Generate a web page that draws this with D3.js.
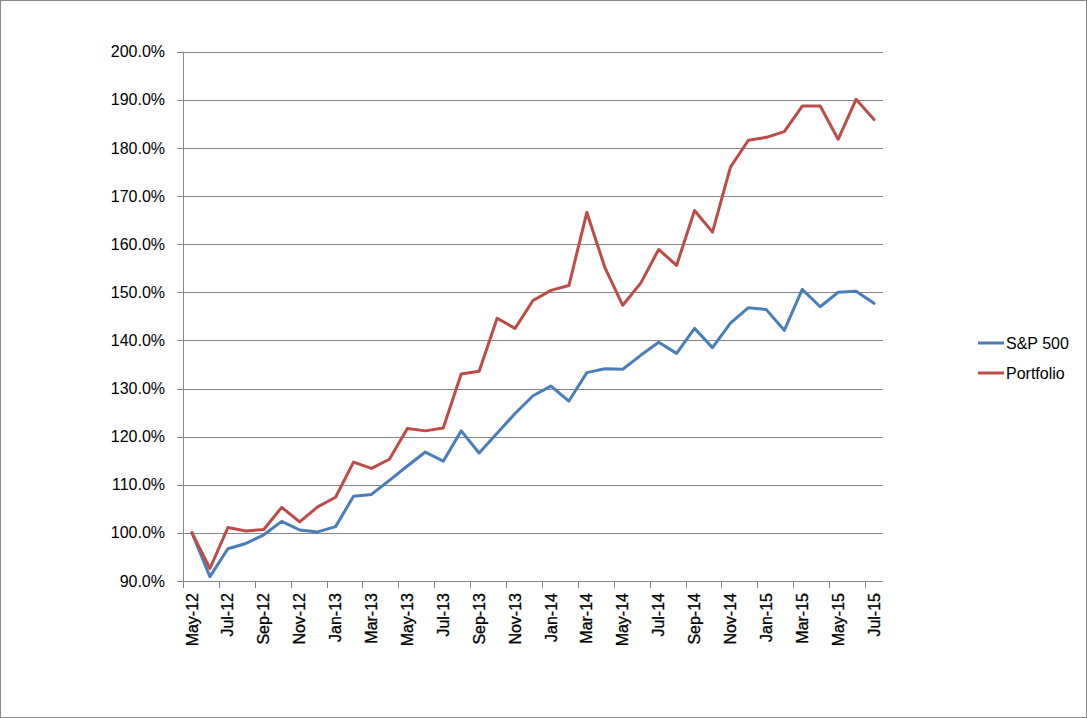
<!DOCTYPE html>
<html><head><meta charset="utf-8">
<script src="https://cdn.jsdelivr.net/npm/d3@7"></script>
<style>body{margin:0;background:#fff;} svg{display:block;font-family:"Liberation Sans",Arial,sans-serif;}</style>
</head><body>
<svg id="c" width="1087" height="718"></svg>
<script>
const months = ["May-12","Jun-12","Jul-12","Aug-12","Sep-12","Oct-12","Nov-12","Dec-12","Jan-13","Feb-13","Mar-13","Apr-13","May-13","Jun-13","Jul-13","Aug-13","Sep-13","Oct-13","Nov-13","Dec-13","Jan-14","Feb-14","Mar-14","Apr-14","May-14","Jun-14","Jul-14","Aug-14","Sep-14","Oct-14","Nov-14","Dec-14","Jan-15","Feb-15","Mar-15","Apr-15","May-15","Jun-15","Jul-15"];
const sp500 = [100.0,90.9,96.7,97.8,99.6,102.4,100.6,100.2,101.3,107.6,108.0,110.9,113.9,116.8,114.9,121.2,116.6,120.7,124.8,128.5,130.5,127.4,133.3,134.1,134.0,136.9,139.6,137.3,142.5,138.5,143.6,146.8,146.4,142.1,150.6,147.0,150.0,150.2,147.7];
const portfolio = [100.0,92.6,101.1,100.4,100.7,105.3,102.3,105.4,107.4,114.7,113.4,115.3,121.7,121.2,121.8,133.0,133.6,144.6,142.5,148.3,150.4,151.4,166.6,155.2,147.3,151.9,158.9,155.6,167.0,162.5,176.0,181.6,182.2,183.4,188.7,188.7,181.8,190.1,185.9];
const yTicks = [90,100,110,120,130,140,150,160,170,180,190,200];
const seriesNames = ["S&P 500","Portfolio"];
const colors = ["#4A7EBB","#BE4B48"];

(function(){
const svg = d3.select("#c");
svg.append("rect").attr("x",0.5).attr("y",0.5).attr("width",1086).attr("height",717).attr("fill","#fff").attr("stroke","#868686");

const pL=183, pR=883, pT=51.7, pB=581;
const x = d3.scaleBand().domain(months).range([pL,pR]).padding(0);
const y = d3.scaleLinear().domain([90,200]).range([pB,pT]);
const gray="#868686";

svg.append("g").selectAll("line").data(yTicks).join("line")
  .attr("x1",pL).attr("x2",pR).attr("y1",d=>Math.round(y(d))+0.5).attr("y2",d=>Math.round(y(d))+0.5)
  .attr("stroke",gray).attr("stroke-width",1);

svg.append("line").attr("x1",pL+0.5).attr("x2",pL+0.5).attr("y1",pT).attr("y2",pB).attr("stroke",gray);
svg.append("g").selectAll("line").data(yTicks).join("line")
  .attr("x1",pL-6).attr("x2",pL).attr("y1",d=>Math.round(y(d))+0.5).attr("y2",d=>Math.round(y(d))+0.5).attr("stroke",gray);
svg.append("g").selectAll("text").data(yTicks).join("text")
  .attr("x",pL-18).attr("y",d=>y(d)).attr("dy","0.35em").attr("text-anchor","end")
  .attr("font-size",16).attr("fill","#000").text(d=>d.toFixed(1)+"%");

svg.append("line").attr("x1",pL).attr("x2",pR).attr("y1",Math.round(pB)+0.5).attr("y2",Math.round(pB)+0.5).attr("stroke",gray);
const tickIdx = months.map((m,i)=>i).filter(i=>i%2===0);
svg.append("g").selectAll("line").data(tickIdx).join("line")
  .attr("x1",i=>Math.round(x(months[i]))+0.5).attr("x2",i=>Math.round(x(months[i]))+0.5)
  .attr("y1",pB).attr("y2",pB+7).attr("stroke",gray);
svg.append("g").selectAll("text").data(tickIdx).join("text")
  .attr("transform",i=>`translate(${x(months[i])+x.bandwidth()/2},${pB+12}) rotate(-90)`)
  .attr("dy","0.35em").attr("text-anchor","end").attr("font-size",16).attr("fill","#000")
  .attr("stroke","#000").attr("stroke-width",0.3)
  .text(i=>months[i]);

const line = d3.line().x((d,i)=>x(months[i])+x.bandwidth()/2).y(d=>y(d));
[sp500,portfolio].forEach((s,k)=>{
  svg.append("path").datum(s).attr("d",line).attr("fill","none").attr("stroke",colors[k])
    .attr("stroke-width",3).attr("stroke-linejoin","round").attr("stroke-linecap","round");
});

const lg = svg.append("g");
seriesNames.forEach((n,k)=>{
  const ly = 343 + k*30;
  lg.append("line").attr("x1",978).attr("x2",1004).attr("y1",ly).attr("y2",ly).attr("stroke",colors[k]).attr("stroke-width",3);
  lg.append("text").attr("x",1006).attr("y",ly).attr("dy","0.35em").attr("font-size",16).attr("fill","#000").text(n);
});
})();
</script>
</body></html>
